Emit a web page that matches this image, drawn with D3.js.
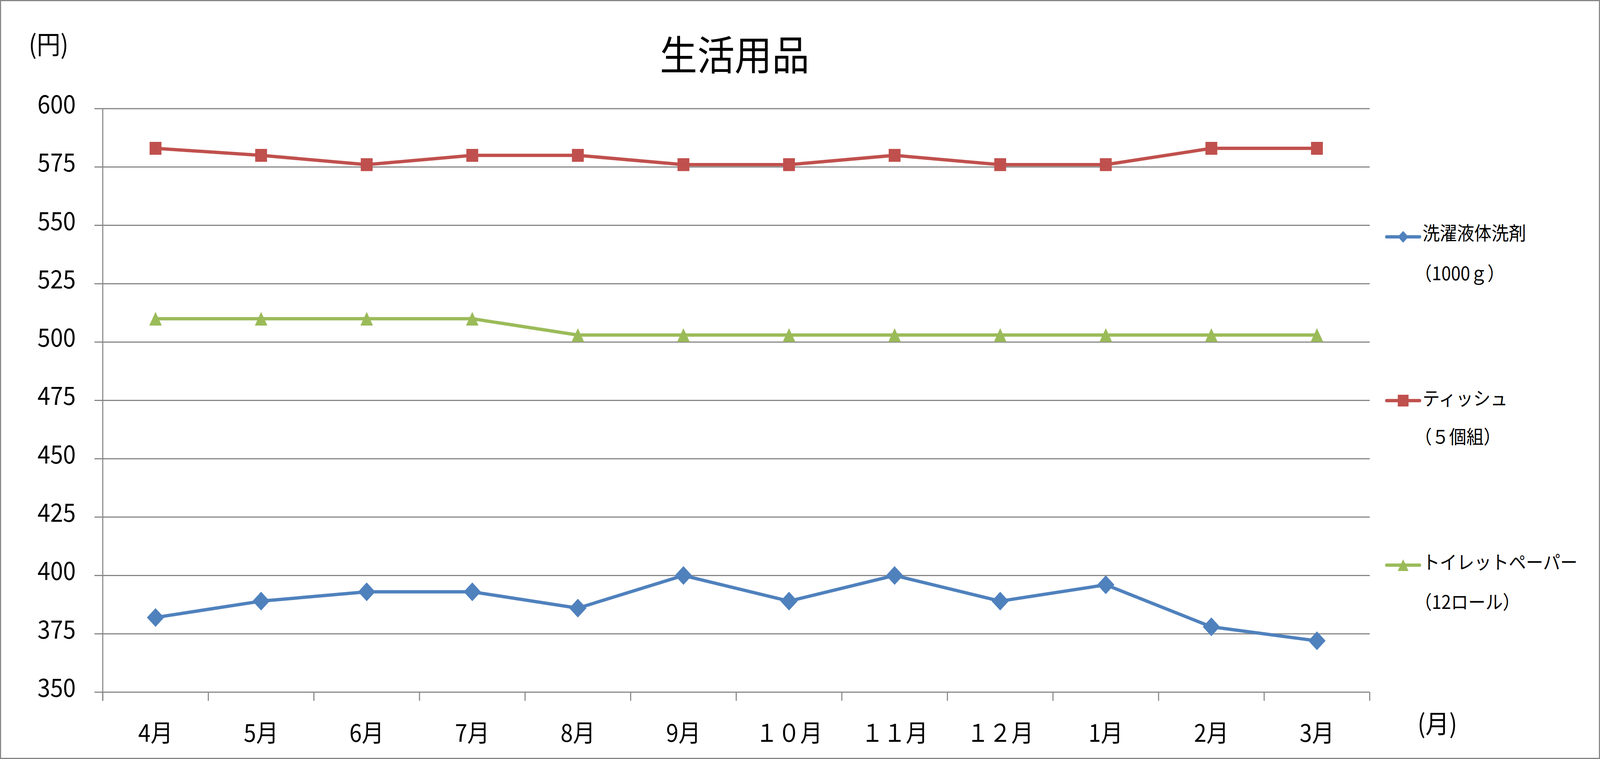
<!DOCTYPE html>
<html><head><meta charset="utf-8">
<script src="https://cdn.jsdelivr.net/npm/d3@7"></script>
<style>
html,body{margin:0;padding:0;background:#fff;overflow:hidden;}
svg{display:block;}
text{font-family:"Noto Sans CJK JP","Noto Sans",sans-serif;fill:#000;}
</style></head>
<body>
<svg id="chart"></svg>
<script>
const months = ["4月","5月","6月","7月","8月","9月","１０月","１１月","１２月","1月","2月","3月"];
const detergent = [382,389,393,393,386,400,389,400,389,396,378,372];
const tissue = [583,580,576,580,580,576,576,580,576,576,583,583];
const toilet = [510,510,510,510,503,503,503,503,503,503,503,503];
const yTicks = [350,375,400,425,450,475,500,525,550,575,600];
const seriesNames = ["洗濯液体洗剤","ティッシュ","トイレットペーパー"];
const seriesSub = ["（1000ｇ）","（５個組）","（12ロール）"];
const colors = ["#4F81BD","#C0504D","#9BBB59"];
const title = "生活用品";

const W = 4454, H = 1942;
const vw = window.innerWidth || W, vh = window.innerHeight || H;
const svg = d3.select("#chart")
  .attr("width", vw).attr("height", vh)
  .attr("viewBox", `0 0 ${W} ${H}`)
  .attr("preserveAspectRatio", "none");
const L = 286, R = 3813, T = 278, B = 1771;
const grid = "#868686";

svg.append("rect").attr("x",1.5).attr("y",1.5).attr("width",W-3).attr("height",H-3)
  .attr("fill","#fff").attr("stroke",grid).attr("stroke-width",3);

const x = d3.scaleBand().domain(months).range([L,R]).padding(0);
const y = d3.scaleLinear().domain([350,600]).range([B,T]);

// gridlines
svg.append("g").selectAll("line").data(yTicks).join("line")
  .attr("x1",L-23).attr("x2",R).attr("y1",d=>y(d)).attr("y2",d=>y(d))
  .attr("stroke",grid).attr("stroke-width",3);

// y axis line
svg.append("line").attr("x1",L).attr("x2",L).attr("y1",T).attr("y2",B+22)
  .attr("stroke",grid).attr("stroke-width",3);

// x ticks at band edges
const edges = months.map(m=>x(m)).concat([R]);
svg.append("g").selectAll("line").data(edges).join("line")
  .attr("x1",d=>d).attr("x2",d=>d).attr("y1",B).attr("y2",B+22)
  .attr("stroke",grid).attr("stroke-width",3);

// y labels
svg.append("g").selectAll("text").data(yTicks).join("text")
  .attr("x",211).attr("y",d=>y(d)+12).attr("text-anchor","end")
  .attr("font-size",64).text(d=>d);

// x labels
svg.append("g").selectAll("text").data(months).join("text")
  .attr("x",d=>x(d)+x.bandwidth()/2).attr("y",1898).attr("text-anchor","middle")
  .attr("font-size",62).text(d=>d);

// axis titles
svg.append("text").attr("x",80).attr("y",138).attr("font-size",66).text("(円)");
svg.append("text").attr("x",3946).attr("y",1876).attr("font-size",66).text("(月)");
svg.append("text").attr("x",2045).attr("y",180).attr("text-anchor","middle").attr("font-size",104).text(title);

// marker shapes
function markerPath(kind, s){
  const h = s/2;
  if(kind===0) return `M0,${-h}L${h},0L0,${h}L${-h},0Z`;
  if(kind===1) return `M${-h},${-h}H${h}V${h}H${-h}Z`;
  return `M0,${-h}L${h},${h}L${-h},${h}Z`;
}
const markerSize = [48,33,35];
const legendMarkerSize = [30,30,30];

const data = [detergent, tissue, toilet];
const line = d3.line().x((d,i)=>x(months[i])+x.bandwidth()/2).y(d=>y(d));
data.forEach((vals,k)=>{
  const g = svg.append("g");
  g.append("path").attr("d",line(vals)).attr("fill","none")
    .attr("stroke",colors[k]).attr("stroke-width",8.5)
    .attr("stroke-linejoin","round").attr("stroke-linecap","round");
  g.selectAll("path.m").data(vals).join("path").attr("class","m")
    .attr("transform",(d,i)=>`translate(${x(months[i])+x.bandwidth()/2},${y(d)})`)
    .attr("d",markerPath(k,markerSize[k])).attr("fill",colors[k]);
});

// legend
const legY = [606,1025,1446];
const textY1 = [597,1020,1439];
const textY2 = [700,1118,1541];
seriesNames.forEach((n,k)=>{
  const g = svg.append("g");
  g.append("line").attr("x1",3860).attr("x2",3952).attr("y1",legY[k]).attr("y2",legY[k])
    .attr("stroke",colors[k]).attr("stroke-width",8.5).attr("stroke-linecap","round");
  g.append("path").attr("transform",`translate(3906,${legY[k]})`)
    .attr("d",markerPath(k,legendMarkerSize[k])).attr("fill",colors[k]);
  g.append("text").attr("x",3960).attr("y",textY1[k]).attr("dy","0.36em").attr("font-size",48).text(n);
  g.append("text").attr("x",3938).attr("y",textY2[k]).attr("dy","0.36em").attr("font-size",48).text(seriesSub[k]);
});
</script>
</body></html>
